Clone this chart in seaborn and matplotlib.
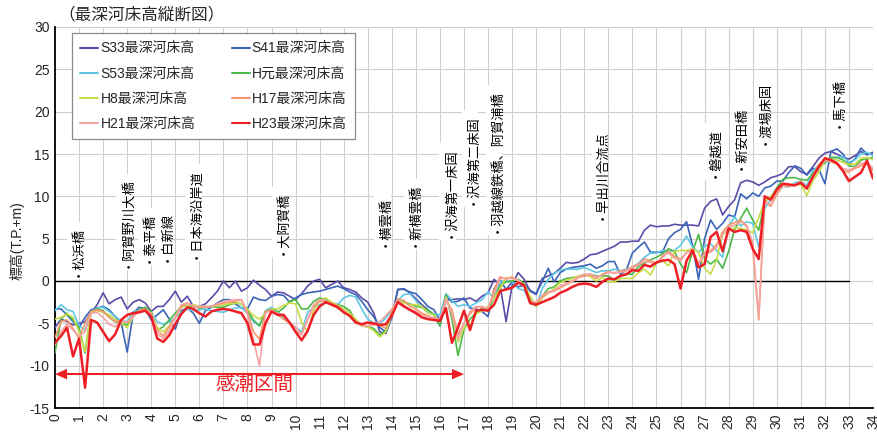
import numpy as np
import pandas as pd
import matplotlib
matplotlib.use("Agg")
import matplotlib.pyplot as plt
from matplotlib.lines import Line2D
import seaborn as sns

# ---------------- data (distance step 0.25 km, 0 .. 34 km) ----------------
km = np.round(np.arange(0, 34.001, 0.25), 2)

s33 = [-5.5, -4.5, -4.8, -5.2, -5.0, -4.8, -3.8, -2.8, -1.4, -2.7, -2.2, -1.9,
       -3.3, -2.5, -2.2, -2.6, -3.6, -3.0, -3.0, -2.2, -1.2, -2.5, -1.8, -3.0,
       -3.0, -2.7, -2.0, -1.2, 0.0, -0.8, 0.0, -1.2, -0.8, 0.1, -0.5, -1.0,
       -1.8, -1.3, -1.4, -1.8, -2.2, -1.5, -0.6, 0.0, 0.2, -0.8, -0.4, 0.0,
       -0.8, -1.0, -1.3, -2.0, -2.5, -3.8, -6.0, -6.2, -4.3, -1.0, -0.9, -1.4,
       -2.1, -2.8, -3.4, -4.0, -5.3, -2.2, -2.2, -2.1, -2.2, -2.0, -2.4, -1.8,
       -1.4, 0.2, -0.5, -4.8, -0.5, 1.0, 0.2, -1.2, -1.6, 0.3, 0.6, 0.9,
       1.5, 2.2, 2.1, 2.2, 2.6, 3.1, 3.2, 3.5, 3.8, 4.1, 4.6, 4.6,
       4.7, 4.7, 6.0, 6.6, 6.4, 6.5, 6.5, 6.7, 6.6, 6.6, 6.6, 6.5,
       8.6, 9.4, 9.7, 7.8, 8.8, 9.6, 11.6, 11.9, 11.7, 11.3, 11.7, 12.2,
       12.4, 12.7, 13.5, 13.5, 12.9, 12.6, 13.5, 14.5, 15.1, 15.3, 15.0, 14.6,
       14.4, 14.8, 15.3, 14.9, 15.2]

s41 = [-3.3, -3.3, -4.0, -4.8, -5.5, -4.3, -3.4, -3.2, -3.0, -3.4, -4.2, -4.9,
       -8.4, -3.8, -3.1, -3.3, -4.6, -4.0, -3.4, -4.5, -5.7, -3.5, -3.2, -3.8,
       -5.0, -3.5, -3.1, -2.6, -2.2, -2.2, -2.7, -3.2, -3.3, -1.9, -2.2, -2.3,
       -1.8, -1.6, -1.7, -2.5, -2.0, -1.6, -1.4, -1.3, -1.2, -1.0, -0.8, -0.6,
       -0.9, -1.3, -1.6, -2.4, -3.4, -4.2, -5.5, -6.0, -4.3, -1.0, -1.0, -1.3,
       -1.5, -2.2, -3.0, -3.4, -4.6, -1.6, -2.5, -2.4, -2.0, -3.2, -3.3, -3.6,
       -4.2, -0.9, 0.1, -1.0, -0.1, -0.7, -0.5, -1.1, -1.5, -0.1, 1.5, -0.1,
       1.0, 1.4, 1.6, 1.7, 1.8, 2.0, 1.5, 1.8, 2.3, 2.3, 0.8, 1.3,
       3.3, 4.0, 4.6, 3.4, 3.4, 3.4, 5.0, 5.7, 6.1, 7.0, 4.2, 0.2,
       5.0, 7.2, 6.1, 6.8, 7.8, 7.6, 10.3, 9.7, 10.4, 10.0, 11.0, 11.2,
       11.8, 11.8, 12.8, 13.6, 13.3, 12.5, 13.3, 13.2, 11.5, 15.3, 15.6, 15.0,
       13.8, 14.4, 15.7, 15.0, 15.0]

s53 = [-3.5, -2.8, -3.4, -3.6, -5.3, -5.8, -3.6, -3.2, -3.1, -3.6, -4.2, -4.7,
       -4.8, -3.6, -3.5, -3.5, -3.7, -4.8, -5.1, -4.8, -4.3, -3.7, -3.3, -3.5,
       -3.4, -3.3, -3.5, -3.6, -3.7, -3.4, -3.2, -3.1, -3.9, -4.8, -5.3, -3.5,
       -3.1, -3.6, -4.3, -4.9, -5.5, -6.0, -3.7, -3.1, -2.8, -2.6, -2.6, -2.8,
       -2.0, -1.7, -1.9, -3.3, -4.5, -5.0, -5.0, -4.4, -3.4, -2.3, -1.6, -1.5,
       -2.3, -3.1, -3.7, -3.9, -4.0, -1.5, -2.3, -3.0, -2.8, -3.0, -2.6, -2.2,
       -1.3, -2.0, -0.1, 0.0, -0.1, -0.9, -1.1, -2.5, -3.0, -0.9, 0.2, 0.9,
       1.3, 1.4, 1.4, 1.4, 1.6, 1.3, 1.0, 1.2, 1.2, 1.4, 1.2, 1.4,
       1.5, 2.1, 2.8, 3.3, 3.3, 3.6, 3.5, 3.6, 4.2, 5.3, 4.0, 3.4,
       4.1, 4.4, 3.6, 2.8, 6.5, 7.6, 6.5, 7.0, 6.8, 4.0, 8.6, 9.6,
       10.5, 11.2, 11.1, 11.6, 11.8, 11.3, 13.0, 13.7, 14.2, 14.4, 14.6, 14.7,
       14.0, 14.3, 15.0, 15.2, 14.8]

hgan = [-8.5, -4.5, -3.8, -4.6, -5.5, -8.5, -3.6, -3.3, -3.5, -4.3, -4.8, -5.0,
        -5.2, -4.1, -3.4, -3.1, -3.6, -5.8, -5.4, -4.6, -3.8, -3.0, -2.9, -3.0,
        -3.2, -3.1, -3.0, -3.1, -3.1, -2.8, -2.6, -2.7, -3.5, -4.6, -5.3, -3.6,
        -3.3, -3.7, -3.2, -2.4, -2.2, -3.3, -3.3, -2.4, -2.0, -2.2, -2.6, -2.8,
        -3.0, -3.5, -4.7, -5.3, -5.4, -5.6, -6.4, -5.8, -3.8, -2.3, -2.5, -2.7,
        -3.0, -3.1, -3.4, -4.0, -5.3, -1.6, -4.5, -8.8, -5.7, -4.5, -3.8, -3.2,
        -3.6, -2.0, -0.6, -0.1, 0.0, 0.2, -0.3, -2.1, -2.8, -1.8, -0.9, -0.7,
        0.0, 0.3, 0.4, 0.5, 0.6, 0.8, 0.6, 0.6, 0.6, 0.1, 0.6, 0.8,
        0.8, 1.7, 2.1, 2.5, 2.8, 3.2, 3.8, 3.5, 2.0, 1.0, 3.5, 5.5,
        2.6, 2.0, 2.6, 1.5, 3.5, 6.1, 7.4, 8.6, 7.2, 6.0, 9.4, 9.9,
        11.0, 12.0, 12.2, 12.2, 12.0, 11.9, 12.7, 13.5, 13.9, 14.6, 14.6, 14.3,
        13.6, 13.5, 14.3, 14.4, 14.6]

h8 = [-4.5, -4.3, -3.9, -4.3, -6.0, -8.3, -3.7, -3.5, -3.7, -4.0, -4.5, -5.0,
      -5.5, -4.2, -3.5, -3.5, -3.8, -5.5, -6.0, -5.3, -4.3, -3.1, -2.9, -2.8,
      -3.0, -3.0, -3.0, -2.9, -2.8, -2.7, -2.6, -2.7, -3.3, -4.1, -4.5, -3.8,
      -3.3, -3.3, -2.9, -2.6, -2.7, -4.9, -6.0, -3.5, -2.3, -2.0, -2.5, -2.9,
      -3.3, -3.8, -4.5, -5.3, -5.4, -5.9, -6.6, -6.0, -4.0, -2.3, -2.6, -2.8,
      -2.8, -3.0, -3.8, -4.0, -4.8, -1.9, -3.8, -7.2, -5.5, -5.2, -3.9, -3.5,
      -3.0, -2.0, -0.9, 0.4, 0.3, 0.0, -0.4, -1.8, -3.0, -2.0, -1.4, -0.9,
      -0.2, 0.1, 0.3, 0.6, 0.8, 0.5, 0.0, 0.4, -0.1, -0.1, 0.3, 0.3,
      0.3, 1.0, 1.4, 0.7, 2.1, 2.4, 1.8, 3.5, 3.6, 3.6, 3.8, 3.4,
      1.5, 0.8, 2.5, 5.5, 5.9, 6.3, 6.2, 6.0, 5.7, 7.5, 9.4, 10.0,
      10.7, 11.4, 11.2, 11.4, 11.4, 10.1, 11.8, 12.9, 14.2, 14.4, 14.3, 14.0,
      13.8, 13.8, 14.5, 14.6, 14.3]

h17 = [-6.7, -4.8, -4.6, -5.6, -6.8, -5.0, -3.6, -3.4, -3.6, -4.3, -4.8, -4.7,
       -4.9, -4.1, -3.5, -3.3, -3.8, -5.8, -6.5, -5.4, -4.3, -3.0, -2.6, -3.0,
       -3.1, -3.1, -3.0, -2.8, -2.6, -2.5, -2.4, -2.2, -3.7, -6.0, -6.9, -3.6,
       -3.4, -4.0, -4.5, -5.0, -6.0, -6.2, -4.6, -3.0, -2.4, -2.4, -2.6, -3.0,
       -3.5, -4.2, -4.8, -5.2, -5.3, -5.1, -5.2, -5.6, -3.5, -2.1, -2.3, -3.0,
       -3.3, -3.8, -4.1, -4.4, -4.7, -2.3, -3.4, -6.3, -5.0, -3.9, -3.1, -3.0,
       -3.4, -1.0, 0.5, 0.2, 0.5, 0.0, -0.6, -2.7, -2.6, -1.9, -1.4, -1.2,
       -0.8, -0.4, -0.1, 0.4, 0.6, 0.7, 0.3, 0.8, 1.1, 0.9, 1.2, 1.3,
       1.7, 2.0, 2.6, 2.4, 2.1, 2.8, 3.5, 2.9, 2.6, 3.3, 3.8, 2.0,
       3.4, 3.6, 4.3, 5.8, 6.6, 6.9, 7.2, 6.4, 4.0, -4.6, 9.5, 8.8,
       10.2, 11.2, 11.2, 11.3, 11.8, 11.0, 12.4, 13.8, 14.3, 14.1, 13.8, 13.0,
       12.9, 13.3, 13.6, 14.2, 13.0]

h21 = [-7.6, -6.0, -5.1, -5.8, -6.5, -6.0, -3.8, -3.7, -4.3, -5.1, -5.4, -4.7,
       -4.9, -4.2, -3.6, -3.5, -3.9, -6.2, -6.8, -5.9, -4.2, -2.8, -2.6, -3.0,
       -3.0, -3.0, -3.0, -2.7, -2.4, -2.3, -2.2, -2.2, -4.0, -7.0, -10.0, -3.8,
       -3.5, -3.8, -4.1, -5.0, -5.4, -6.4, -4.5, -2.8, -2.2, -2.3, -2.8, -3.2,
       -3.6, -4.2, -4.9, -5.3, -5.3, -5.2, -4.8, -4.1, -3.3, -2.3, -2.9, -3.4,
       -3.6, -4.0, -4.2, -4.4, -4.5, -2.1, -3.9, -6.8, -5.0, -3.6, -3.0, -3.1,
       -3.2, -1.5, 0.3, 0.3, 0.3, 0.1, -0.5, -2.4, -2.5, -1.7, -1.3, -1.1,
       -0.6, -0.3, 0.0, 0.5, 0.8, 0.8, 0.5, 0.7, 1.0, 1.0, 1.0, 1.2,
       1.5, 1.9, 2.3, 2.2, 2.0, 3.0, 3.3, 2.7, 2.4, 3.4, 3.6, 2.1,
       3.2, 3.4, 4.0, 5.5, 6.3, 6.6, 7.0, 6.6, 4.5, -4.2, 9.4, 9.0,
       10.5, 11.3, 11.3, 11.4, 11.7, 11.1, 12.2, 13.5, 14.2, 14.3, 14.0, 13.3,
       13.1, 13.4, 13.9, 14.0, 13.3]

h23 = [-7.3, -6.5, -5.5, -8.9, -6.8, -12.6, -4.6, -4.9, -6.0, -7.1, -6.3, -4.6,
       -4.0, -3.8, -3.7, -3.5, -4.2, -6.8, -7.2, -6.4, -5.1, -3.9, -3.1, -3.3,
       -3.8, -4.2, -3.6, -3.4, -3.3, -3.4, -3.6, -3.8, -5.0, -7.5, -7.5, -5.0,
       -3.6, -4.0, -4.0, -4.9, -6.0, -7.0, -5.9, -4.0, -3.0, -2.5, -2.8, -3.1,
       -3.7, -4.1, -4.9, -5.1, -4.9, -5.0, -5.2, -5.1, -4.1, -2.5, -3.0, -3.4,
       -3.8, -4.3, -4.5, -4.6, -4.7, -3.2, -7.3, -5.5, -3.5, -5.8, -3.5, -3.4,
       -3.5, -2.8, -1.2, -1.0, -0.8, -0.2, -0.5, -2.6, -2.8, -2.5, -2.2, -1.9,
       -1.4, -1.1, -0.7, -0.4, -0.3, -0.4, -0.7, -0.1, 0.3, 0.2, 0.6, 0.8,
       1.3, 1.2, 1.9, 1.7, 2.2, 2.4, 2.5, 2.0, -0.9, 2.4, 3.6, 1.6,
       2.0, 5.2, 5.8, 3.5, 6.2, 5.8, 6.0, 5.8, 3.8, 2.6, 10.0, 9.6,
       10.8, 11.5, 11.4, 11.3, 11.6, 10.9, 12.3, 13.5, 14.5, 14.3, 13.9, 13.0,
       11.8, 12.3, 12.8, 14.2, 12.1]

series_names = ["S33最深河床高", "S41最深河床高", "S53最深河床高", "H元最深河床高",
                "H8最深河床高", "H17最深河床高", "H21最深河床高", "H23最深河床高"]
series_values = [s33, s41, s53, hgan, h8, h17, h21, h23]
series_colors = ["#5A4CA8", "#3A64B8", "#5EC8E4", "#4CB848",
                 "#C9DC48", "#F7976A", "#F5A3A3", "#EE1E25"]

landmarks = ["・松浜橋", "・阿賀野川大橋", "・泰平橋", "・白新線", "・日本海沿岸道",
             "・大阿賀橋", "・横雲橋", "・新横雲橋", "・沢海第一床固", "・沢海第二床固",
             "・羽越線鉄橋、阿賀浦橋", "・早出川合流点", "・磐越道", "・新安田橋",
             "・渡場床固", "・馬下橋"]
landmark_km = [0.83, 2.9, 3.8, 4.57, 5.74, 9.35, 13.6, 14.84, 16.33, 17.25,
               18.25, 22.65, 27.3, 28.4, 29.4, 32.5]
landmark_base = [0.5, 1.5, 2.1, 2.2, 2.6, 3.1, 4.0, 4.0, 5.1, 9.0,
                 5.7, 7.2, 12.2, 13.1, 16.1, 18.1]

tidal_label = "感潮区間"
tidal_range = [0, 17]
tidal_level = -11
x_ticks = list(range(0, 35))
y_ticks = list(range(-15, 31, 5))

for v in series_values:
    assert len(v) == len(km), len(v)

# ---------------- style ----------------
sns.set_style("white")
plt.rcParams["font.family"] = ["Liberation Sans", "Noto Sans CJK JP", "DejaVu Sans"]
plt.rcParams["axes.unicode_minus"] = False

fig = plt.figure(figsize=(8.77, 4.33), dpi=100)
ax = fig.add_axes([55 / 877, 25 / 433, 818 / 877, 381 / 433])

df = pd.DataFrame({"km": np.tile(km, len(series_names)),
                   "value": np.concatenate(series_values),
                   "series": np.repeat(series_names, len(km))})

for name, col in zip(series_names, series_colors):
    sub = df[df["series"] == name]
    lw = 1.8 if name.startswith("H23") else 1.2
    sns.lineplot(data=sub, x="km", y="value", color=col, lw=lw, ax=ax,
                 estimator=None, sort=False, legend=False, zorder=3)

ax.set_xlim(0, 34)
ax.set_ylim(-15, 30)
ax.set_xticks(x_ticks)
ax.set_yticks(y_ticks)
ax.set_xticklabels([str(t) for t in x_ticks], rotation=90, fontsize=10)
ax.set_yticklabels([str(t) for t in y_ticks], fontsize=10)
ax.tick_params(axis="both", length=0, pad=4)
ax.grid(True, color="#CFCFCF", lw=0.8, zorder=0)
ax.set_axisbelow(True)
for s in ["top", "right"]:
    ax.spines[s].set_visible(False)
for s in ["left", "bottom"]:
    ax.spines[s].set_color("black")
    ax.spines[s].set_linewidth(1.3)
ax.set_xlabel("")
ax.set_ylabel("標高(T.P.+m)", fontsize=10)
ax.yaxis.set_label_coords(-0.037, 0.44)

# zero line
ax.plot([0, 33], [0, 0], color="black", lw=1.0, zorder=2)

# landmark labels
for name, x, y in zip(landmarks, landmark_km, landmark_base):
    ax.text(x, y, name, rotation=90, ha="center", va="bottom", fontsize=9.5,
            color="black", zorder=4,
            bbox=dict(boxstyle="square,pad=0.15", fc="white", ec="none"))

# tidal section double arrow (heads sized in data units: ~12 px long, ~11 px wide)
red = "#EE1E25"
x0, x1 = tidal_range
hl, hw = 0.5, 0.62
ax.plot([x0 + hl * 0.5, x1 - hl * 0.5], [tidal_level, tidal_level], color=red,
        lw=1.5, zorder=5, clip_on=False, solid_capstyle="butt")
ax.fill([x0, x0 + hl, x0 + hl], [tidal_level, tidal_level + hw, tidal_level - hw],
        color=red, zorder=5, clip_on=False, lw=0)
ax.fill([x1, x1 - hl, x1 - hl], [tidal_level, tidal_level + hw, tidal_level - hw],
        color=red, zorder=5, clip_on=False, lw=0)
ax.text(8.3, -12.3, tidal_label, color=red, fontsize=14, ha="center", va="center",
        zorder=5)

# legend (row-major like the reference)
handles = [Line2D([0], [0], color=c, lw=1.5) for c in series_colors]
order = [0, 2, 4, 6, 1, 3, 5, 7]
leg = ax.legend([handles[i] for i in order], [series_names[i] for i in order],
                ncol=2, loc="upper left", mode="expand",
                bbox_to_anchor=(0.0208, 0.5, 0.346, 0.484),
                borderaxespad=0.0,
                fontsize=10, frameon=True, fancybox=False, framealpha=1,
                edgecolor="#8C8C8C", handlelength=1.3, handletextpad=0.15,
                columnspacing=1.0, labelspacing=0.8, borderpad=0.6)
leg.get_frame().set_linewidth(0.9)
leg.set_zorder(6)

fig.text(58 / 877, 1 - 14 / 433, "（最深河床高縦断図）", fontsize=12,
         ha="left", va="center")

fig.savefig("out.png", dpi=100)
